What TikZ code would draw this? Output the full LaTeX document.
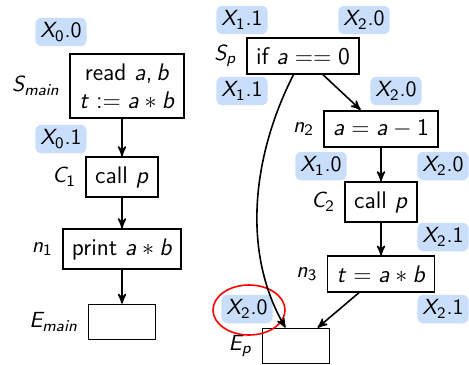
\documentclass[tikz,border=0pt]{standalone}
\usepackage{amsmath}
\usepackage{xcolor}
\usetikzlibrary{positioning, arrows, shapes.geometric}

% sans serif math, as on slides
\DeclareSymbolFont{letters}{OT1}{cmss}{m}{sl}
\DeclareSymbolFont{operators}{OT1}{cmss}{m}{n}
\mathcode`,="602C
\mathcode`.="002E

\definecolor{tagblue}{RGB}{200,222,250}

\begin{document}
\sffamily
\begin{tikzpicture}[x=0.5pt,y=-0.5pt,->,>=stealth',thick,node distance=1pt,
    font=\fontsize{11}{13}\selectfont,
    blk/.style={draw,rectangle,inner xsep=4.5pt,inner ysep=4.7pt,font=\fontsize{12}{14}\selectfont},
    tag/.style={fill=tagblue,rounded corners=3pt,inner sep=2.5pt}]
    \useasboundingbox (0,0) rectangle (469,364);

    % main
    \node[blk,align=center] (sm) at (127,86) {read~$a, b$\\$t := a * b$};
    \node[blk] (c1) at (122,177) {call $p$};
    \node[blk] (n1) at (122,249) {print $a * b$};
    \node[blk,minimum width=33.5pt,minimum height=17.5pt] (em) at (122,322) {};
    \node[left=of sm] {$S_{main}$};
    \node[left=of c1] {$C_1$};
    \node[left=of n1] {$n_1$};
    \node[left=of em] {$E_{main}$};
    \node[tag] (x00) at (61,32) {$X_0.0$};
    \node[tag] (x01) at (61,139) {$X_0.1$};

    % p
    \node[blk] (sp) at (303,56) {if $a == 0$};
    \node[blk] (n2) at (381,129) {$a = a - 1$};
    \node[blk] (c2) at (381,202) {call $p$};
    \node[blk] (n3) at (381,274) {$t = a * b$};
    \node[blk,minimum width=33.5pt,minimum height=17.5pt] (ep) at (296,346) {};
    \node[left=of sp] {$S_p$};
    \node[left=of n2] {$n_2$};
    \node[left=of c2] {$C_2$};
    \node[left=of n3] {$n_3$};
    \node[left=of ep] {$E_p$};
    \node[tag] (x11a) at (242,20) {$X_1.1$};
    \node[tag] (x20a) at (364,20) {$X_2.0$};
    \node[tag] (x11b) at (242,91) {$X_1.1$};
    \node[tag] (x20b) at (396,91) {$X_2.0$};
    \node[tag] (x10) at (321,166) {$X_1.0$};
    \node[tag] (x20c) at (443,166) {$X_2.0$};
    \node[tag] (x21a) at (443,237) {$X_2.1$};
    \node[tag] (x21b) at (443,309) {$X_2.1$};
    \node[tag] (x20d) at (247,309) {$X_2.0$};
    \node[draw=red,ellipse,minimum width=36pt,minimum height=25pt] (ring) at (249,310) {};

    \path (sm.south -| c1) edge (c1)
          (c1) edge (n1)
          (n1) edge (em)
          (sp) edge (n2)
          (sp) edge[out=243,in=120,looseness=0.9] (ep)
          (n2) edge (c2)
          (c2) edge (n3)
          (n3) edge (ep);
\end{tikzpicture}
\end{document}
